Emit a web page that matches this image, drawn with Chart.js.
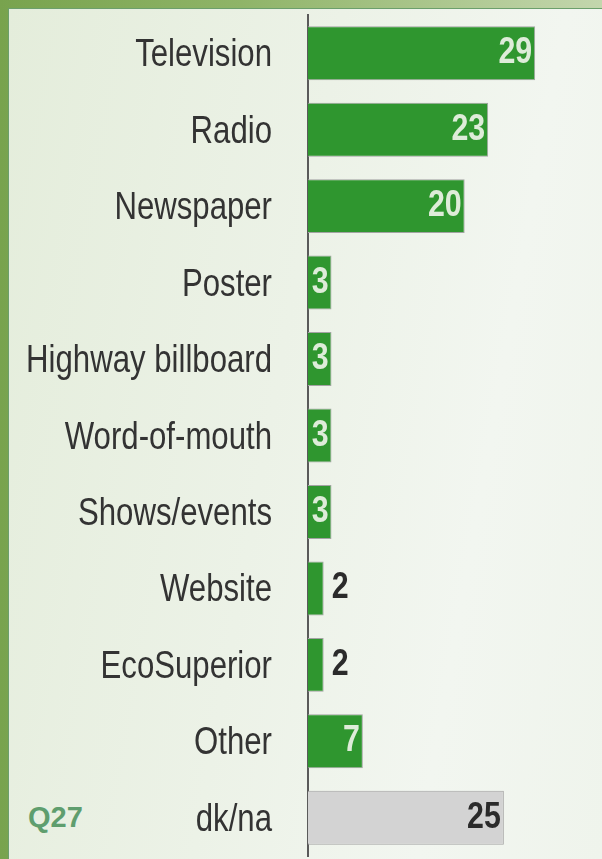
<!DOCTYPE html>
<html>
<head>
<meta charset="utf-8">
<script src="https://cdn.jsdelivr.net/npm/chart.js@4/dist/chart.umd.min.js"></script>
<style>
  html, body { margin: 0; padding: 0; }
  body { width: 602px; height: 859px; position: relative; overflow: hidden;
    background: linear-gradient(to right, #78a34e 0%, #8fb468 40%, #c3d6ad 100%); }
  .panel { position: absolute; left: 8px; top: 8px; right: 0; bottom: 0;
    border-top: 1px solid #6c9f6c; border-left: 1px solid #6c9f6c;
    background: linear-gradient(100deg, #e4eddb 0%, #ecf2e7 45%, #f2f6f0 75%, #eff4ec 100%); }
  #wrap { position: absolute; left: 0; top: 0; width: 602px; height: 859px; }
  .qtag { position: absolute; left: 28px; top: 801px; font: bold 29px "Liberation Sans", Arial, sans-serif;
    color: #5f9e6e; }
</style>
</head>
<body>
<div class="panel"></div>
<div class="qtag">Q27</div>
<div id="wrap"><canvas id="chart" width="602" height="859"></canvas></div>
<script>
const categories = ['Television', 'Radio', 'Newspaper', 'Poster', 'Highway billboard', 'Word-of-mouth',
  'Shows/events', 'Website', 'EcoSuperior', 'Other', 'dk/na'];
const values = [29, 23, 20, 3, 3, 3, 3, 2, 2, 7, 25];
const barColors = ['#2f962f', '#2f962f', '#2f962f', '#2f962f', '#2f962f', '#2f962f',
  '#2f962f', '#2f962f', '#2f962f', '#2f962f', '#d3d3d3'];
const labelColors = ['#deecd9', '#deecd9', '#deecd9', '#deecd9', '#deecd9', '#deecd9',
  '#deecd9', '#deecd9', '#deecd9', '#deecd9', '#2b2b2b'];

// no narrow face is installed, so squeeze Liberation Sans horizontally
const squeeze = 0.82;
const sans = '"Liberation Sans", Arial, sans-serif';

function narrowText(ctx, text, x, y, align) {
  ctx.save();
  ctx.translate(x, y);
  ctx.scale(squeeze, 1);
  ctx.textAlign = align;
  ctx.fillText(text, 0, 0);
  ctx.restore();
}

const narrowLabels = {
  id: 'narrowLabels',
  afterDraw(chart) {
    const ctx = chart.ctx;
    const yScale = chart.scales.y;
    ctx.save();
    ctx.font = '38px ' + sans;
    ctx.fillStyle = '#333333';
    ctx.textBaseline = 'alphabetic';
    categories.forEach((label, i) => {
      narrowText(ctx, label, yScale.right - 36, yScale.getPixelForValue(i) + 13, 'right');
    });
    ctx.restore();
  },
  afterDatasetsDraw(chart) {
    // value labels: inside the bar when they fit, otherwise just past its end
    const ctx = chart.ctx;
    const meta = chart.getDatasetMeta(0);
    ctx.save();
    ctx.font = 'bold 37px ' + sans;
    ctx.textBaseline = 'alphabetic';
    meta.data.forEach((bar, i) => {
      const text = String(values[i]);
      const w = ctx.measureText(text).width * squeeze;
      const barWidth = bar.x - bar.base;
      if (barWidth >= w + 5) {
        ctx.fillStyle = labelColors[i];
        narrowText(ctx, text, bar.x - 3, bar.y + 10, 'right');
      } else {
        ctx.fillStyle = '#2b2b2b';
        narrowText(ctx, text, bar.x + 8, bar.y + 10, 'left');
      }
    });
    ctx.restore();
  }
};

new Chart(document.getElementById('chart'), {
  type: 'bar',
  data: {
    labels: categories,
    datasets: [{
      data: values,
      backgroundColor: barColors,
      borderColor: '#a3a3a3',
      borderWidth: 1,
      barPercentage: 0.706,
      categoryPercentage: 1,
    }],
  },
  options: {
    indexAxis: 'y',
    responsive: false,
    animation: false,
    events: [],
    layout: { padding: { left: 0, top: 15, right: 12, bottom: 3 } },
    plugins: { legend: { display: false }, tooltip: { enabled: false } },
    scales: {
      x: { display: false, min: 0, max: 36 },
      y: {
        grid: { display: false, drawTicks: false },
        border: { display: true, color: '#5a5a5a', width: 2 },
        ticks: { display: false },
        afterFit(scale) {
          scale.width = 308;
          scale.paddingTop = 0;
          scale.paddingBottom = 0;
        },
      },
    },
  },
  plugins: [narrowLabels],
});
</script>
</body>
</html>
